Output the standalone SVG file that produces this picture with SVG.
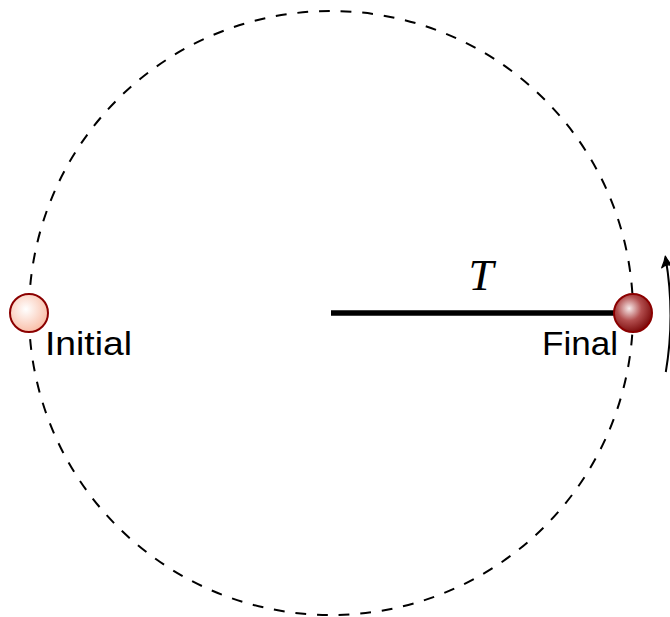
<svg xmlns="http://www.w3.org/2000/svg" width="670" height="617" viewBox="0 0 670 617">
  <style>
    .lbl { font-family: "Liberation Sans", "DejaVu Sans", sans-serif; font-size: 34px; fill: #000; }
    .math { font-family: "Liberation Serif", "DejaVu Serif", serif; font-style: italic; font-size: 45px; fill: #000; }
    .ball { stroke: #8b0000; stroke-width: 2; }
  </style>
  <defs>
    <radialGradient id="gInit" cx="0.42" cy="0.4" r="0.62">
      <stop offset="0" stop-color="#ffffff"/>
      <stop offset="1" stop-color="#f9bda6"/>
    </radialGradient>
    <radialGradient id="gFinal" cx="0.4" cy="0.38" r="0.65">
      <stop offset="0" stop-color="#f7eaea"/>
      <stop offset="0.5" stop-color="#b24e4e"/>
      <stop offset="1" stop-color="#7a0a0a"/>
    </radialGradient>
    <marker id="arr" markerWidth="16" markerHeight="16" refX="0" refY="0" viewBox="-12 -8 16 16" orient="auto" markerUnits="userSpaceOnUse">
      <path d="M -9,-5.5 Q -3,-1.5 2,0 Q -3,1.5 -9,5.5 Q -5,0 -9,-5.5 Z" fill="#000" stroke="#000" stroke-width="1.2" stroke-linejoin="round"/>
    </marker>
  </defs>

  <g id="connectors">
    <circle id="orbit" cx="331" cy="313" r="302" fill="none" stroke="#000" stroke-width="2" stroke-dasharray="10.85 10.85"/>
    <line id="tether" x1="331" y1="313" x2="616" y2="313" stroke="#000" stroke-width="5.5"/>
    <path id="rotation" d="M665.8,372 A340,340 0 0 0 665.6,258" fill="none" stroke="#000" stroke-width="2" marker-end="url(#arr)"/>
  </g>

  <g id="label-T">
    <text class="math" x="481" y="290" text-anchor="middle">T</text>
  </g>

  <g id="initial">
    <circle class="ball" cx="29" cy="313" r="19" fill="url(#gInit)"/>
    <text class="lbl" x="45" y="355" textLength="87" lengthAdjust="spacingAndGlyphs">Initial</text>
  </g>

  <g id="final">
    <circle class="ball" cx="633" cy="313" r="19" fill="url(#gFinal)"/>
    <text class="lbl" x="542" y="355" textLength="76" lengthAdjust="spacingAndGlyphs">Final</text>
  </g>
</svg>
